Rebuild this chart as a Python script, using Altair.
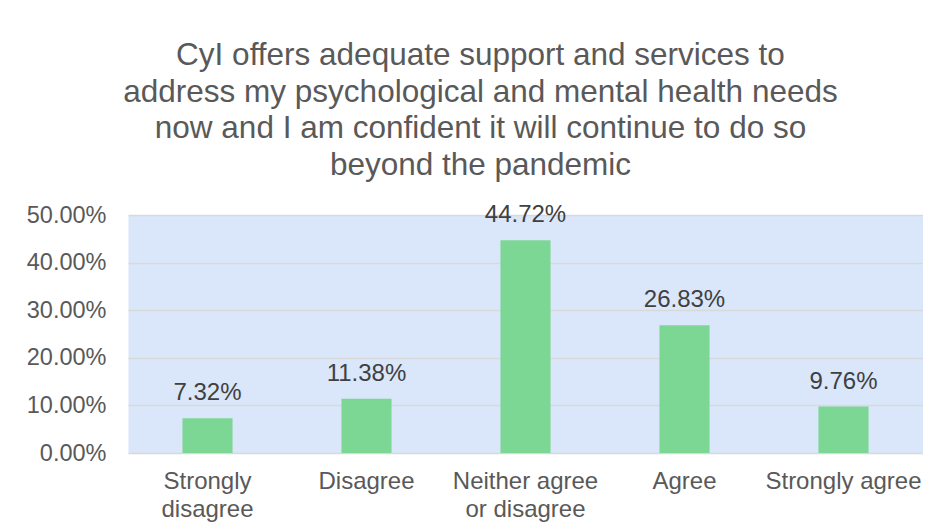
import altair as alt
import pandas as pd

categories = ["Strongly disagree", "Disagree", "Neither agree or disagree", "Agree", "Strongly agree"]
label_lines = ["Strongly|disagree", "Disagree", "Neither agree|or disagree", "Agree", "Strongly agree"]
values = [0.0732, 0.1138, 0.4472, 0.2683, 0.0976]
title_lines = [
    "CyI offers adequate support and services to",
    "address my psychological and mental health needs",
    "now and I am confident it will continue to do so",
    "beyond the pandemic",
]

df = pd.DataFrame({"category": label_lines, "value": values})

FONT = "Liberation Sans"
GREY = "#595959"

x = alt.X(
    "category:N",
    sort=label_lines,
    title=None,
    scale=alt.Scale(paddingInner=0.685, paddingOuter=0.3425),
    axis=alt.Axis(
        labelAngle=0,
        labelExpr="split(datum.label, '|')",
        labelFontSize=24,
        labelColor=GREY,
        labelFont=FONT,
        labelLineHeight=28,
        labelPadding=16,
        ticks=False,
        domain=False,
        grid=False,
        labelBaseline="top",
    ),
)
y = alt.Y(
    "value:Q",
    title=None,
    scale=alt.Scale(domain=[0, 0.5], nice=False),
    axis=alt.Axis(
        values=[0, 0.1, 0.2, 0.3, 0.4, 0.5],
        format=".2%",
        labelFontSize=23.5,
        labelColor=GREY,
        labelFont=FONT,
        labelPadding=22,
        ticks=False,
        domain=False,
        grid=True,
        gridColor="#d9d9d9",
        gridWidth=1.5,
    ),
)

bars = alt.Chart(df).mark_bar(color="#7dd794").encode(x=x, y=y)
labels = alt.Chart(df).mark_text(
    fontSize=24, font=FONT, color="#404040", baseline="alphabetic", dy=-18
).encode(x=x, y=y, text=alt.Text("value:Q", format=".2%"))

chart = (
    alt.layer(bars, labels)
    .properties(
        width=795,
        height=238,
        autosize=alt.AutoSizeParams(type="none"),
        padding={"left": 120, "top": 207, "right": 0, "bottom": 79},
        view=alt.ViewBackground(fill="#dae6fa", stroke="transparent"),
        title=alt.TitleParams(
            text=title_lines,
            fontSize=31.5,
            font=FONT,
            fontWeight="normal",
            color=GREY,
            lineHeight=36.5,
            anchor="middle",
            dx=-45,
            offset=22,
        ),
    )
    .configure(background="white")
)

chart.save("out.html", embed_options={"renderer": "svg", "actions": False})
